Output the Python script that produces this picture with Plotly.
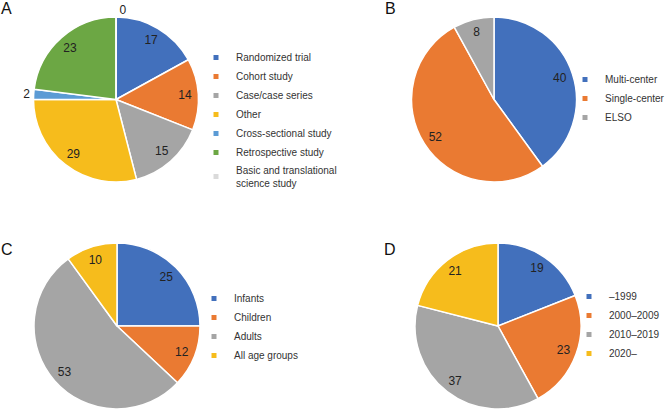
import plotly.graph_objects as go

# Panel A: study design
a_labels = ["Randomized trial", "Cohort study", "Case/case series", "Other",
            "Cross-sectional study", "Retrospective study",
            "Basic and translational<br>science study"]
a_values = [17, 14, 15, 29, 2, 23, 0]
a_colors = ["#4270BC", "#EA7A32", "#A5A5A5", "#F6BC1C", "#5B9BD5", "#6CA744", "#DADADA"]

# Panel B: center
b_labels = ["Multi-center", "Single-center", "ELSO"]
b_values = [40, 52, 8]
b_colors = ["#4270BC", "#EA7A32", "#A5A5A5"]

# Panel C: age group
c_labels = ["Infants", "Children", "Adults", "All age groups"]
c_values = [25, 12, 53, 10]
c_colors = ["#4270BC", "#EA7A32", "#A5A5A5", "#F6BC1C"]

# Panel D: publication period
d_labels = ["\u20131999", "2000\u20132009", "2010\u20132019", "2020\u2013"]
d_values = [19, 23, 37, 21]
d_colors = ["#4270BC", "#EA7A32", "#A5A5A5", "#F6BC1C"]

W, H = 665, 409
FONT = "Liberation Sans, Arial, Helvetica, sans-serif"

def px_dom(x0, x1, ytop, ybot):
    return dict(x=[x0 / W, x1 / W], y=[1 - ybot / H, 1 - ytop / H])

fig = go.Figure()

panels = [
    (a_labels, a_values, a_colors, px_dom(33, 199, 17, 182), "legend",
     ["inside", "inside", "inside", "inside", "outside", "inside", "outside"]),
    (b_labels, b_values, b_colors, px_dom(411, 577, 17, 182), "legend2", "inside"),
    (c_labels, c_values, c_colors, px_dom(34, 200, 243, 409), "legend3", "inside"),
    (d_labels, d_values, d_colors, px_dom(415, 581, 243, 409), "legend4", "inside"),
]

for labels, values, colors, dom, leg, tpos in panels:
    # the filled pie
    fig.add_trace(go.Pie(
        labels=labels, values=values, sort=False, direction="clockwise",
        rotation=0, domain=dom, showlegend=False,
        marker=dict(colors=colors, line=dict(color="white", width=1.5)),
        textinfo="none", hoverinfo="label+value",
    ))
    # transparent ring on top that carries the value labels near the rim
    fig.add_trace(go.Pie(
        labels=labels, values=values, sort=False, direction="clockwise",
        rotation=0, domain=dom, showlegend=False, hole=0.68,
        marker=dict(colors=["rgba(0,0,0,0)"] * len(values),
                    line=dict(color="rgba(0,0,0,0)", width=0)),
        textinfo="value", textposition=tpos,
        insidetextorientation="horizontal",
        textfont=dict(family=FONT, size=12, color="#222222"),
        hoverinfo="skip",
    ))
    # legend entries with small square markers
    for lab, col in zip(labels, colors):
        fig.add_trace(go.Scatter(
            x=[None], y=[None], mode="markers", name=lab, legend=leg,
            marker=dict(symbol="square", size=5, color=col),
            hoverinfo="skip",
        ))

leg_common = dict(font=dict(family=FONT, size=10, color="#333333"),
                  bgcolor="rgba(0,0,0,0)", tracegroupgap=0, itemwidth=30,
                  xanchor="left", yanchor="top")

fig.update_layout(
    width=W, height=H,
    margin=dict(l=0, r=0, t=0, b=0, autoexpand=False),
    paper_bgcolor="white", plot_bgcolor="white",
    xaxis=dict(visible=False), yaxis=dict(visible=False),
    legend=dict(x=196 / W, y=1 - 43 / H, **leg_common),
    legend2=dict(x=565 / W, y=1 - 65 / H, **leg_common),
    legend3=dict(x=194 / W, y=1 - 284 / H, **leg_common),
    legend4=dict(x=569 / W, y=1 - 282 / H, **leg_common),
    annotations=[
        dict(text=t, x=x / W, y=1 - y / H, xref="paper", yref="paper",
             xanchor="left", yanchor="top", showarrow=False,
             font=dict(family=FONT, size=16, color="#111111"))
        for t, x, y in [("A", -1, -2), ("B", 383, -2), ("C", -1, 239), ("D", 382, 239)]
    ],
)

fig.write_html("out.html", config={"displayModeBar": False},
               post_script="document.body.style.margin='0';")
